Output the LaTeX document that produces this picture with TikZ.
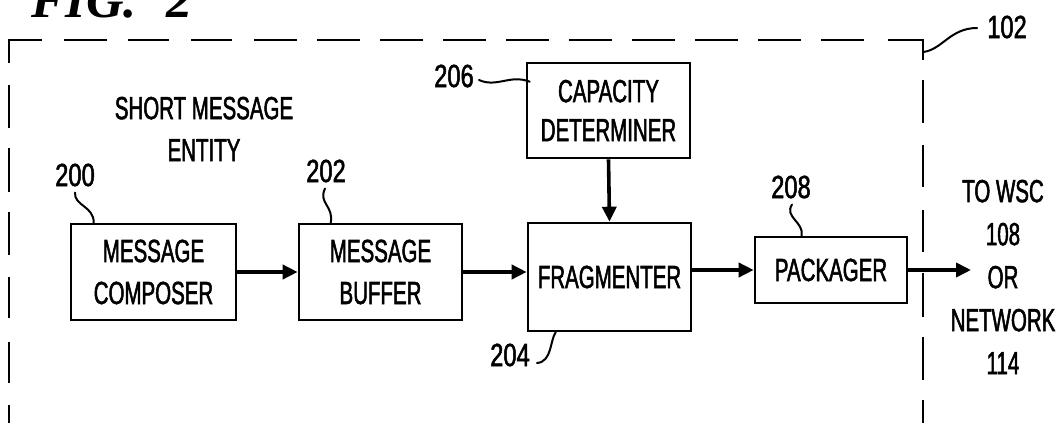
\documentclass[tikz,border=0pt]{standalone}
\usepackage{fontspec}
\usetikzlibrary{arrows.meta,calc}
\newfontfamily\boxfont[FakeStretch=0.64,FakeBold=1.6]{Liberation Sans}
\newfontfamily\numfont[FakeStretch=0.74,FakeBold=1.6]{Liberation Sans}
\newfontfamily\figfont{Liberation Serif}
\begin{document}
\begin{tikzpicture}[x=1pt,y=-1pt,
  blk/.style={draw, line width=2.6pt, inner sep=0pt, align=center,
    font=\boxfont\fontsize{32}{42}\selectfont},
  txt/.style={inner sep=0pt, align=center, font=\boxfont\fontsize{32}{42}\selectfont},
  num/.style={inner sep=0pt, font=\numfont\fontsize{32}{38}\selectfont},
  flow/.style={line width=3.6pt, -{Triangle[length=15pt,width=14pt]}},
  lead/.style={line width=2pt, line cap=round},
  bord/.style={line width=2.6pt}]
\useasboundingbox (0,0) rectangle (1058,423);

% title
\node[anchor=base west, inner sep=0pt, font=\figfont\bfseries\itshape\fontsize{52}{54}\selectfont] (fig) at (31,17) {FIG.\hspace{30pt}2};

% dashed border drawn as explicit dashes
\foreach \a/\b in {405/423,342/383,277/318,212/255,148/192,85/128}
  \draw[bord] (9,\a) -- (9,\b);
\draw[bord] (9,63) -- (9,40) -- (42,40);
\foreach \a/\b in {64/107,128/169,191/232,254/297,317/360,380/423,443/486,506/549,569/612,632/675,695/738,758/801,821/864}
  \draw[bord] (\a,40) -- (\b,40);
\draw[bord] (888,40) -- (923,40) -- (923,60);
\foreach \a/\b in {80/123,145/187,210/252,273/317,337/380,400/423}
  \draw[bord] (923,\a) -- (923,\b);

% title of entity
\node[txt] (ent) at (204,129) {SHORT MESSAGE\\ENTITY};

% blocks
\node[blk, minimum width=165pt, minimum height=96pt] (comp) at (153.5,272) {MESSAGE\\COMPOSER};
\node[blk, minimum width=163pt, minimum height=96pt] (buf) at (380.5,272) {MESSAGE\\BUFFER};
\node[blk, minimum width=163pt, minimum height=108pt] (frag) at (609.5,277) {FRAGMENTER};
\node[blk, minimum width=163pt, minimum height=95pt, font=\boxfont\fontsize{32}{39}\selectfont] (cap) at (608.5,110.5) {CAPACITY\\DETERMINER};
\node[blk, minimum width=152pt, minimum height=66pt] (pack) at (831,270) {PACKAGER};
\node[txt, font=\boxfont\fontsize{32}{43}\selectfont] (dest) at (1003,277) {TO WSC\\108\\OR\\NETWORK\\114};
\coordinate (out) at (971,270);

% flows
\draw[flow] (comp.east) -- (buf.west);
\draw[flow] (buf.east) -- (buf.east -| frag.west);
\draw[flow] (cap.south) -- (frag.north);
\draw[flow] (frag.east |- pack.west) -- (pack.west);
\draw[flow] (pack.east) -- (out);

% reference numerals
\node[num] (l200) at (75,175) {200};
\node[num] (l202) at (326,171) {202};
\node[num] (l204) at (510,355) {204};
\node[num] (l206) at (454,76) {206};
\node[num] (l208) at (791,187) {208};
\node[num] (l102) at (1007,27) {102};

\coordinate (c200) at ($(comp.north west)+(24,0)$);
\coordinate (c202) at ($(buf.north west)+(33,0)$);
\coordinate (c204) at ($(frag.south west)+(29,0)$);
\coordinate (c206) at ($(cap.north west)+(4,20)$);
\coordinate (c208) at ($(pack.north west)+(48,0)$);
\coordinate (c102) at (923,52);

\draw[lead] ($(l200.south)+(0,6)$) .. controls (74,206) and (94,206) .. (c200);
\draw[lead] ($(l202.south)+(-1,6)$) .. controls (318,203) and (334,206) .. (c202);
\draw[lead] ($(l204.east)+(7,8)$) .. controls (552,362) and (550,340) .. (c204);
\draw[lead] ($(l206.east)+(5,4)$) .. controls (497,88) and (510,74) .. (c206);
\draw[lead] ($(l208.south)+(1,6)$) .. controls (784,217) and (804,222) .. (c208);
\draw[lead] (c102) .. controls (942,50) and (950,28) .. ($(l102.west)+(-10,1)$);
\end{tikzpicture}
\end{document}
